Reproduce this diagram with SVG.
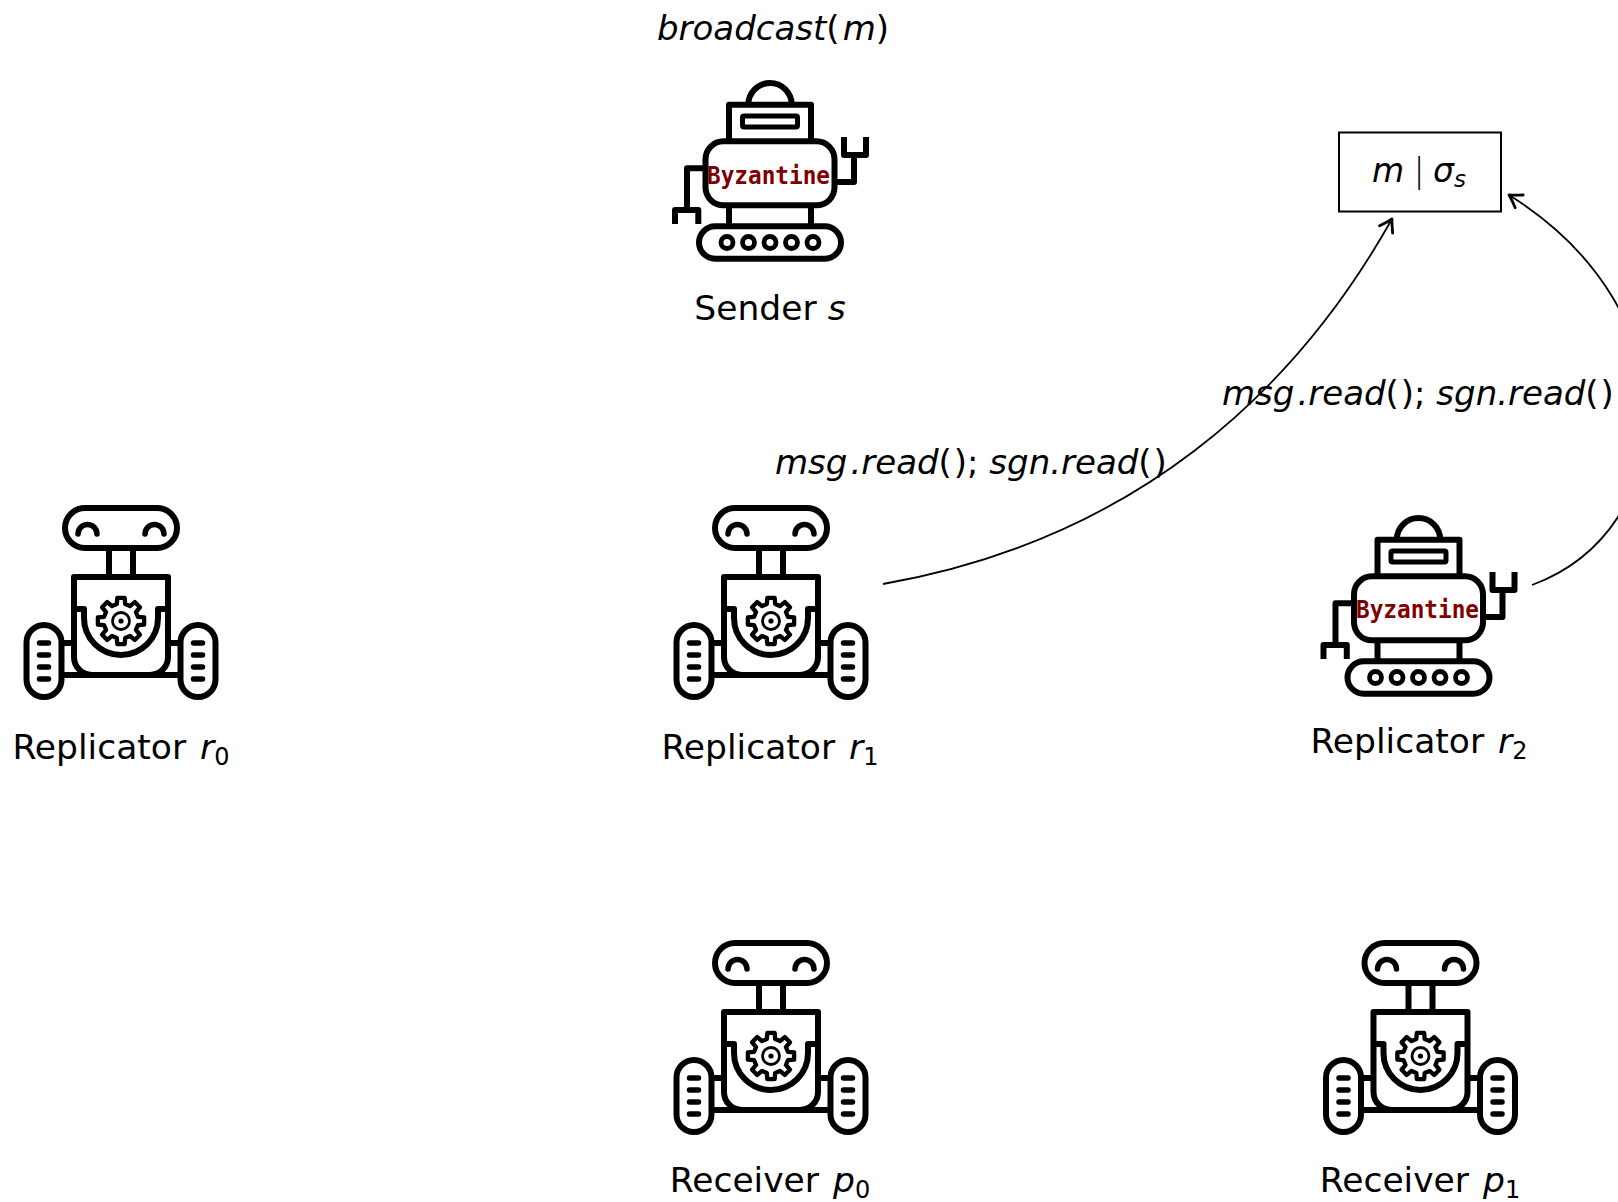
<svg xmlns="http://www.w3.org/2000/svg" width="1618" height="1202" viewBox="0 0 1618 1202">
<style>
  .ln{fill:none;stroke:#000;stroke-width:6;stroke-linejoin:round}
  .rc{stroke-linecap:round}
  .wl{fill:none;stroke:#000;stroke-width:4.8}
  .edge{fill:none;stroke:#000;stroke-width:1.8}
  text{font-family:"DejaVu Sans",sans-serif;fill:#000}
  .lbl{font-size:34.5px}
  .elbl{font-size:34px}
  .mi{font-style:italic}
  .sub{font-size:24px}
  .byz{font-family:"DejaVu Sans Mono",monospace;font-weight:bold;font-size:25px;fill:#800000}
</style>
<defs>
  <marker id="tip" markerUnits="userSpaceOnUse" viewBox="-14 -9 16 18" refX="0" refY="0" markerWidth="16" markerHeight="18" orient="auto">
    <path d="M-12 -7.5Q-4 -2 0 0Q-4 2 -12 7.5" fill="none" stroke="#000" stroke-width="2.8" stroke-linecap="round" stroke-linejoin="round"/>
  </marker>

  <!-- wheeled robot with gear chest, origin at body centre line -->
  <g id="bot" class="ln">
    <rect x="-56" y="-92" width="112" height="40" rx="20"/>
    <path class="rc" d="M-43 -66A9.5 9.5 0 0 1 -24 -66M24 -66A9.5 9.5 0 0 1 43 -66" style="stroke-width:5.5"/>
    <path d="M-12 -52V-23M12 -52V-23"/>
    <path d="M-47 -23H47V57A18 18 0 0 1 29 75H-29A18 18 0 0 1 -47 57Z"/>
    <path d="M-59.5 75H59.5M-59.5 43H-47M47 43H59.5"/>
    <path d="M-47 9H-37V18A37 37 0 0 0 37 18V9H47"/>
    <polygon transform="translate(0 21) scale(1.2)" style="stroke-width:3.6" points="14.07,-3.51 19.26,-3.05 19.26,3.05 14.07,3.51 12.43,7.47 15.78,11.46 11.46,15.78 7.47,12.43 3.51,14.07 3.05,19.26 -3.05,19.26 -3.51,14.07 -7.47,12.43 -11.46,15.78 -15.78,11.46 -12.43,7.47 -14.07,3.51 -19.26,3.05 -19.26,-3.05 -14.07,-3.51 -12.43,-7.47 -15.78,-11.46 -11.46,-15.78 -7.47,-12.43 -3.51,-14.07 -3.05,-19.26 3.05,-19.26 3.51,-14.07 7.47,-12.43 11.46,-15.78 15.78,-11.46 12.43,-7.47"/>
    <circle cy="21" r="8.5" style="stroke-width:2.8"/>
    <circle cy="21" r="2.6" style="fill:#000;stroke:none"/>
    <rect x="-94.5" y="25" width="35" height="72" rx="17.5"/>
    <rect x="59.5" y="25" width="35" height="72" rx="17.5"/>
    <path class="rc" style="stroke-width:5.5" d="M-81.5 43H-72.5M-81.5 55H-72.5M-81.5 67H-72.5M-81.5 79H-72.5M72.5 43H81.5M72.5 55H81.5M72.5 67H81.5M72.5 79H81.5"/>
  </g>

  <!-- tracked robot with dome head, origin at body centre -->
  <g id="byzbot" class="ln">
    <path d="M-21.7 -65.3A21.7 21.7 0 0 1 21.7 -65.3"/>
    <path d="M-41 -28.7V-65.3H41V-28.7"/>
    <rect x="-27.5" y="-54" width="55" height="11" rx="1.5" style="stroke-width:5"/>
    <rect x="-64.5" y="-28.7" width="129" height="64" rx="18" style="fill:#fff"/>
    <path d="M64.5 12H84V-15M74 -33V-15H96V-33"/>
    <path d="M-64.5 -1.7H-83V40M-95 54V40H-71.7V54"/>
    <path d="M-41 35.3V56.3M41 35.3V56.3"/>
    <rect x="-71" y="56.3" width="142" height="32.4" rx="16.2"/>
    <g class="wl">
      <circle cx="-43" cy="72.5" r="6"/>
      <circle cx="-21.5" cy="72.5" r="6"/>
      <circle cx="0" cy="72.5" r="6"/>
      <circle cx="21.5" cy="72.5" r="6"/>
      <circle cx="43" cy="72.5" r="6"/>
    </g>
  </g>
</defs>

<rect width="1618" height="1202" fill="#fff"/>

<g id="sender">
  <text class="lbl" x="657" y="40" style="font-size:34px"><tspan class="mi">broadcast</tspan>(<tspan class="mi" dx="3">m</tspan>)</text>
  <use href="#byzbot" transform="translate(770 170)"/>
  <text class="byz" x="707" y="184" textLength="123" lengthAdjust="spacingAndGlyphs">Byzantine</text>
  <text class="lbl" x="770" y="320" text-anchor="middle">Sender <tspan class="mi">s</tspan></text>
</g>

<g id="signed-message">
  <rect x="1339" y="132.5" width="162" height="79" fill="none" stroke="#000" stroke-width="2"/>
  <text class="lbl" y="181.7" style="font-size:33px"><tspan class="mi" x="1372">m</tspan><tspan x="1413.5" style="font-weight:300">|</tspan><tspan class="mi" x="1433">σ</tspan><tspan class="mi sub" dy="5" style="font-size:23px">s</tspan></text>
</g>

<g id="replicator-r0">
  <use href="#bot" transform="translate(121 600)"/>
  <text class="lbl" x="121" y="759" text-anchor="middle">Replicator <tspan class="mi" dx="3">r</tspan><tspan class="sub" dy="6">0</tspan></text>
</g>

<g id="replicator-r1">
  <use href="#bot" transform="translate(771 600)"/>
  <text class="lbl" x="770" y="759" text-anchor="middle">Replicator <tspan class="mi" dx="3">r</tspan><tspan class="sub" dy="6">1</tspan></text>
</g>

<g id="replicator-r2">
  <use href="#byzbot" transform="translate(1418.5 605)"/>
  <text class="byz" x="1356" y="618" textLength="123" lengthAdjust="spacingAndGlyphs">Byzantine</text>
  <text class="lbl" x="1419" y="753" text-anchor="middle">Replicator <tspan class="mi" dx="3">r</tspan><tspan class="sub" dy="6">2</tspan></text>
</g>

<g id="receiver-p0">
  <use href="#bot" transform="translate(771 1035)"/>
  <text class="lbl" x="770" y="1192" text-anchor="middle">Receiver <tspan class="mi" dx="3">p</tspan><tspan class="sub" dy="6">0</tspan></text>
</g>

<g id="receiver-p1">
  <use href="#bot" transform="translate(1420.5 1035)"/>
  <text class="lbl" x="1420" y="1192" text-anchor="middle">Receiver <tspan class="mi" dx="3">p</tspan><tspan class="sub" dy="6">1</tspan></text>
</g>

<g id="connectors">
  <path class="edge" marker-end="url(#tip)" d="M883 584C1133 540 1293 395 1392 219"/>
  <path class="edge" marker-end="url(#tip)" d="M1532 585C1682 529.5 1696 311.6 1509 195"/>
  <text class="elbl" x="775" y="473.5"><tspan class="mi">msg</tspan><tspan class="mi" dx="3">.read</tspan>(<tspan dx="2">)</tspan>; <tspan class="mi">sgn.read</tspan>(<tspan dx="2">)</tspan></text>
  <text class="elbl" x="1222" y="405"><tspan class="mi">msg</tspan><tspan class="mi" dx="3">.read</tspan>(<tspan dx="2">)</tspan>; <tspan class="mi">sgn.read</tspan>(<tspan dx="2">)</tspan></text>
</g>
</svg>
